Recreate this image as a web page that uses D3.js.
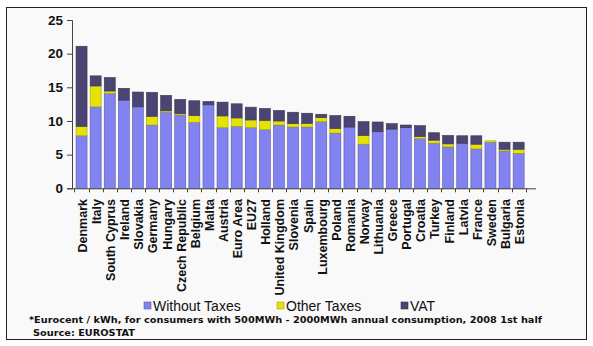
<!DOCTYPE html>
<html>
<head>
<meta charset="utf-8">
<script src="https://cdn.jsdelivr.net/npm/d3@7"></script>
<style>
  html, body { margin: 0; padding: 0; background: #ffffff; }
  svg { display: block; }
</style>
</head>
<body>
<svg id="chart" width="593" height="346"></svg>
<script>
// Electricity prices by country (Eurocent / kWh), stacked by component
const countries = ["Denmark", "Italy", "South Cyprus", "Ireland", "Slovakia", "Germany", "Hungary",
  "Czech Republic", "Belgium", "Malta", "Austria", "Euro Area", "EU27", "Holland", "United Kingdom",
  "Slovenia", "Spain", "Luxembourg", "Poland", "Romania", "Norway", "Lithuania", "Greece", "Portugal",
  "Croatia", "Turkey", "Finland", "Latvia", "France", "Sweden", "Bulgaria", "Estonia"];

const withoutTaxes = [7.8, 12.1, 14.1, 13.1, 12.1, 9.4, 11.3, 10.9, 9.8, 12.4, 9.0, 9.2, 9.0, 8.7, 9.4,
  9.1, 9.1, 9.9, 8.2, 9.1, 6.55, 8.4, 8.8, 9.0, 7.4, 6.7, 6.15, 6.7, 5.85, 6.85, 5.55, 5.2];
const otherTaxes = [1.4, 3.1, 0.35, 0, 0, 1.3, 0.2, 0.2, 1.0, 0, 1.75, 1.25, 1.15, 1.4, 0.6,
  0.5, 0.55, 0.6, 0.7, 0, 1.3, 0, 0, 0, 0.3, 0.45, 0.45, 0, 0.7, 0.2, 0.25, 0.6];
const vat = [11.9, 1.5, 2.0, 1.75, 2.2, 3.55, 2.3, 2.1, 2.2, 0.5, 2.05, 2.1, 1.9, 1.75, 1.55,
  1.7, 1.5, 0.5, 1.9, 1.6, 2.05, 1.45, 0.8, 0.4, 1.6, 1.1, 1.25, 1.1, 1.25, 0, 1.05, 1.05];

const seriesNames = ["Without Taxes", "Other Taxes", "VAT"];
const yTicks = [0, 5, 10, 15, 20, 25];
const footnote = "*Eurocent / kWh, for consumers with 500MWh - 2000MWh annual consumption, 2008 1st half";
const source = "Source: EUROSTAT";

const colors = { "Without Taxes": "#8282f0", "Other Taxes": "#e4e400", "VAT": "#4b4573" };
const strokes = { "Without Taxes": "#5a5aa8", "Other Taxes": "#a0a020", "VAT": "#38334f" };

const svg = d3.select("#chart");

// frame
svg.append("rect")
  .attr("x", 6.5).attr("y", 7.5).attr("width", 580).attr("height", 332)
  .attr("fill", "#f9f9f9").attr("stroke", "#222").attr("stroke-width", 1);

const table = countries.map((c, i) => ({
  country: c,
  "Without Taxes": withoutTaxes[i],
  "Other Taxes": otherTaxes[i],
  "VAT": vat[i]
}));

const stacked = d3.stack().keys(seriesNames)(table);

const x = d3.scaleBand()
  .domain(countries)
  .range([74.5, 525.7])
  .paddingInner(0.22)
  .paddingOuter(0.11);

const y = d3.scaleLinear().domain([0, 25]).range([188.3, 20]);

// stacked bars
const layers = svg.append("g").selectAll("g")
  .data(stacked)
  .join("g")
  .attr("fill", d => colors[d.key])
  .attr("stroke", d => strokes[d.key]);

layers.selectAll("rect")
  .data(d => d.filter(s => s[1] - s[0] > 0))
  .join("rect")
  .attr("x", d => x(d.data.country))
  .attr("width", x.bandwidth())
  .attr("y", d => y(d[1]))
  .attr("height", d => y(d[0]) - y(d[1]))
  .attr("stroke-width", 0.6);

// y axis
const yAxis = svg.append("g")
  .attr("transform", "translate(72,0)")
  .call(d3.axisLeft(y).tickValues(yTicks).tickSize(5).tickPadding(4));
yAxis.select(".domain").attr("stroke", "#444");
yAxis.selectAll(".tick line").attr("stroke", "#444");
yAxis.selectAll("text")
  .attr("font-family", "Liberation Sans, Arial, sans-serif")
  .attr("font-weight", "bold")
  .attr("font-size", 13.5)
  .attr("fill", "#111");

// x axis line with ticks between categories
const xAxisG = svg.append("g");
xAxisG.append("line")
  .attr("x1", 72).attr("x2", 536)
  .attr("y1", y(0) + 0.5).attr("y2", y(0) + 0.5)
  .attr("stroke", "#444");
const step = x.step();
const x0 = x(countries[0]) - step * x.paddingInner() / 2;
xAxisG.selectAll("line.tick")
  .data(d3.range(countries.length + 1))
  .join("line")
  .attr("class", "tick")
  .attr("x1", i => Math.round(x0 + i * step) + 0.5)
  .attr("x2", i => Math.round(x0 + i * step) + 0.5)
  .attr("y1", y(0))
  .attr("y2", y(0) + 4)
  .attr("stroke", "#444");

// category labels, rotated
svg.append("g").selectAll("text")
  .data(countries)
  .join("text")
  .attr("transform", d => `translate(${x(d) + x.bandwidth() / 2 + 1},199) rotate(-90)`)
  .attr("text-anchor", "end")
  .attr("dy", "0.35em")
  .attr("font-family", "Liberation Sans, Arial, sans-serif")
  .attr("font-weight", "bold")
  .attr("font-size", 12.5)
  .attr("fill", "#111")
  .text(d => d);

// legend
const legendItems = [
  { name: "Without Taxes", x: 144 },
  { name: "Other Taxes", x: 277 },
  { name: "VAT", x: 401 }
];
const legend = svg.append("g").selectAll("g")
  .data(legendItems)
  .join("g")
  .attr("transform", d => `translate(${d.x},306)`);
legend.append("rect")
  .attr("x", 0).attr("y", -4).attr("width", 7).attr("height", 7)
  .attr("fill", d => colors[d.name])
  .attr("stroke", d => strokes[d.name])
  .attr("stroke-width", 0.6);
legend.append("text")
  .attr("x", 9).attr("y", 0).attr("dy", "0.35em")
  .attr("font-family", "Liberation Sans, Arial, sans-serif")
  .attr("font-size", 14)
  .attr("fill", "#111")
  .text(d => d.name);

// footnotes
svg.append("text")
  .attr("x", 29).attr("y", 323)
  .attr("font-family", "DejaVu Sans, Verdana, sans-serif")
  .attr("font-weight", "bold")
  .attr("font-size", 9)
  .attr("textLength", 513)
  .attr("lengthAdjust", "spacingAndGlyphs")
  .attr("fill", "#111")
  .text(footnote);
svg.append("text")
  .attr("x", 33).attr("y", 336)
  .attr("font-family", "DejaVu Sans, Verdana, sans-serif")
  .attr("font-weight", "bold")
  .attr("font-size", 9)
  .attr("textLength", 102)
  .attr("lengthAdjust", "spacingAndGlyphs")
  .attr("fill", "#111")
  .text(source);
</script>
</body>
</html>
